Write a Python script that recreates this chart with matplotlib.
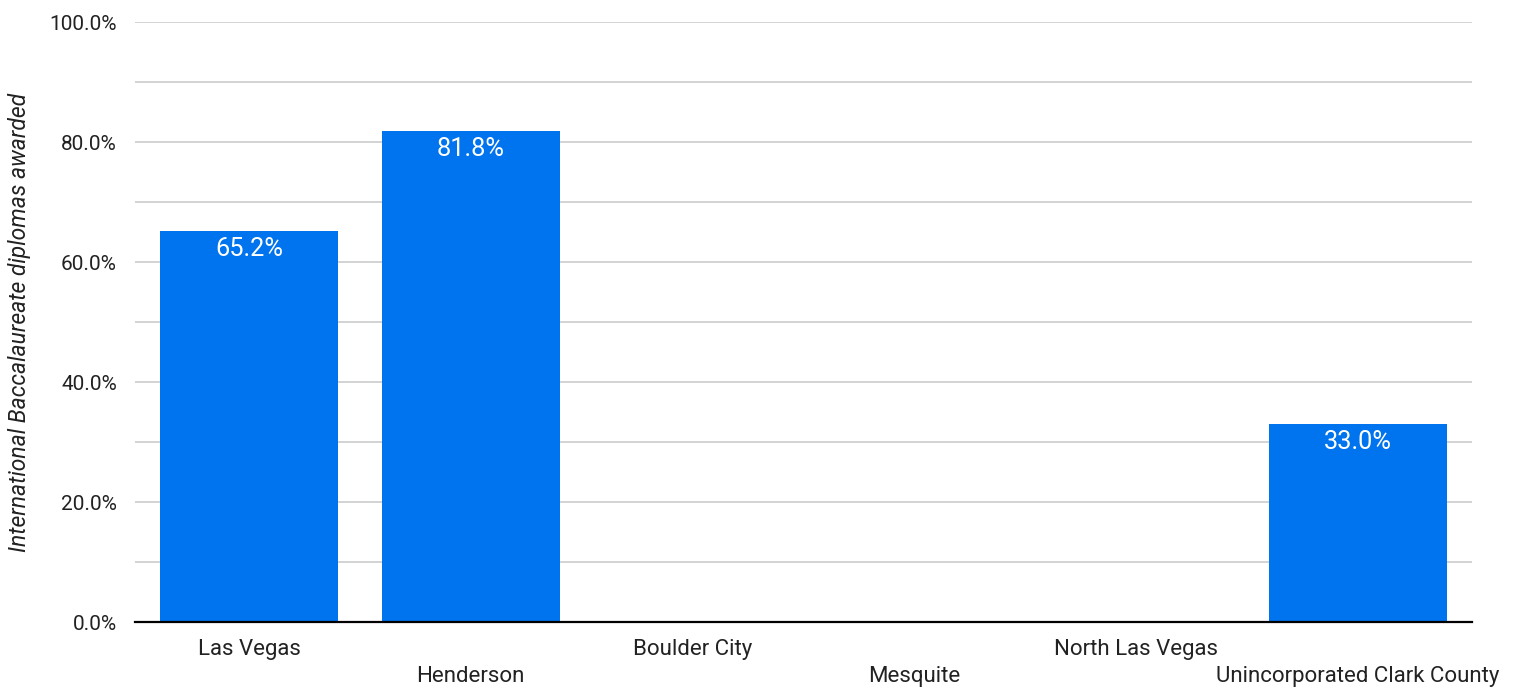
import matplotlib.pyplot as plt
from matplotlib.ticker import MultipleLocator, FuncFormatter

plt.rcParams["font.family"] = ["Roboto", "DejaVu Sans"]

# Data
cities = ["Las Vegas", "Henderson", "Boulder City", "Mesquite",
          "North Las Vegas", "Unincorporated Clark County"]
ib_pct = [65.2, 81.8, 0, 0, 0, 33.0]
labels = ["65.2%", "81.8%", "", "", "", "33.0%"]

bar_color = "#0073EE"

fig = plt.figure(figsize=(15.21, 6.88), dpi=100)
ax = fig.add_axes([135 / 1521, 66 / 688, (1472 - 135) / 1521, 600 / 688])

x = list(range(len(cities)))
bars = ax.bar(x, ib_pct, width=0.8, color=bar_color, zorder=2)

for xi, val, lab in zip(x, ib_pct, labels):
    if lab:
        ax.annotate(lab, (xi, val), xytext=(0, -13), textcoords="offset points",
                    ha="center", va="center", color="white", fontsize=18.3)

ax.set_xlim(-0.514, len(cities) - 0.486)
ax.set_ylim(0, 100)
ax.yaxis.set_major_locator(MultipleLocator(20))
ax.yaxis.set_minor_locator(MultipleLocator(10))
ax.yaxis.set_major_formatter(FuncFormatter(lambda v, p: f"{v:.1f}%"))
ax.grid(axis="y", which="both", color="#cccccc", linewidth=1.2, zorder=0)
ax.set_axisbelow(True)

for s in ["top", "right", "left"]:
    ax.spines[s].set_visible(False)
ax.spines["bottom"].set_linewidth(1.6)
ax.spines["bottom"].set_zorder(3)

ax.set_xticks(x)
ax.set_xticklabels(cities, fontsize=16, color="#222222")
ax.tick_params(axis="x", length=0)
for i, tick in enumerate(ax.xaxis.get_major_ticks()):
    tick.set_pad(12 if i % 2 == 0 else 32)

ax.tick_params(axis="y", which="both", length=0, pad=13, labelsize=15, labelcolor="#222222")

fig.text(20 / 1521, 1 - 322 / 688, "International Baccalaureate diplomas awarded",
         rotation=90, ha="center", va="center", fontsize=16.5, style="italic", color="#222222")

plt.savefig("out.png", dpi=100)
